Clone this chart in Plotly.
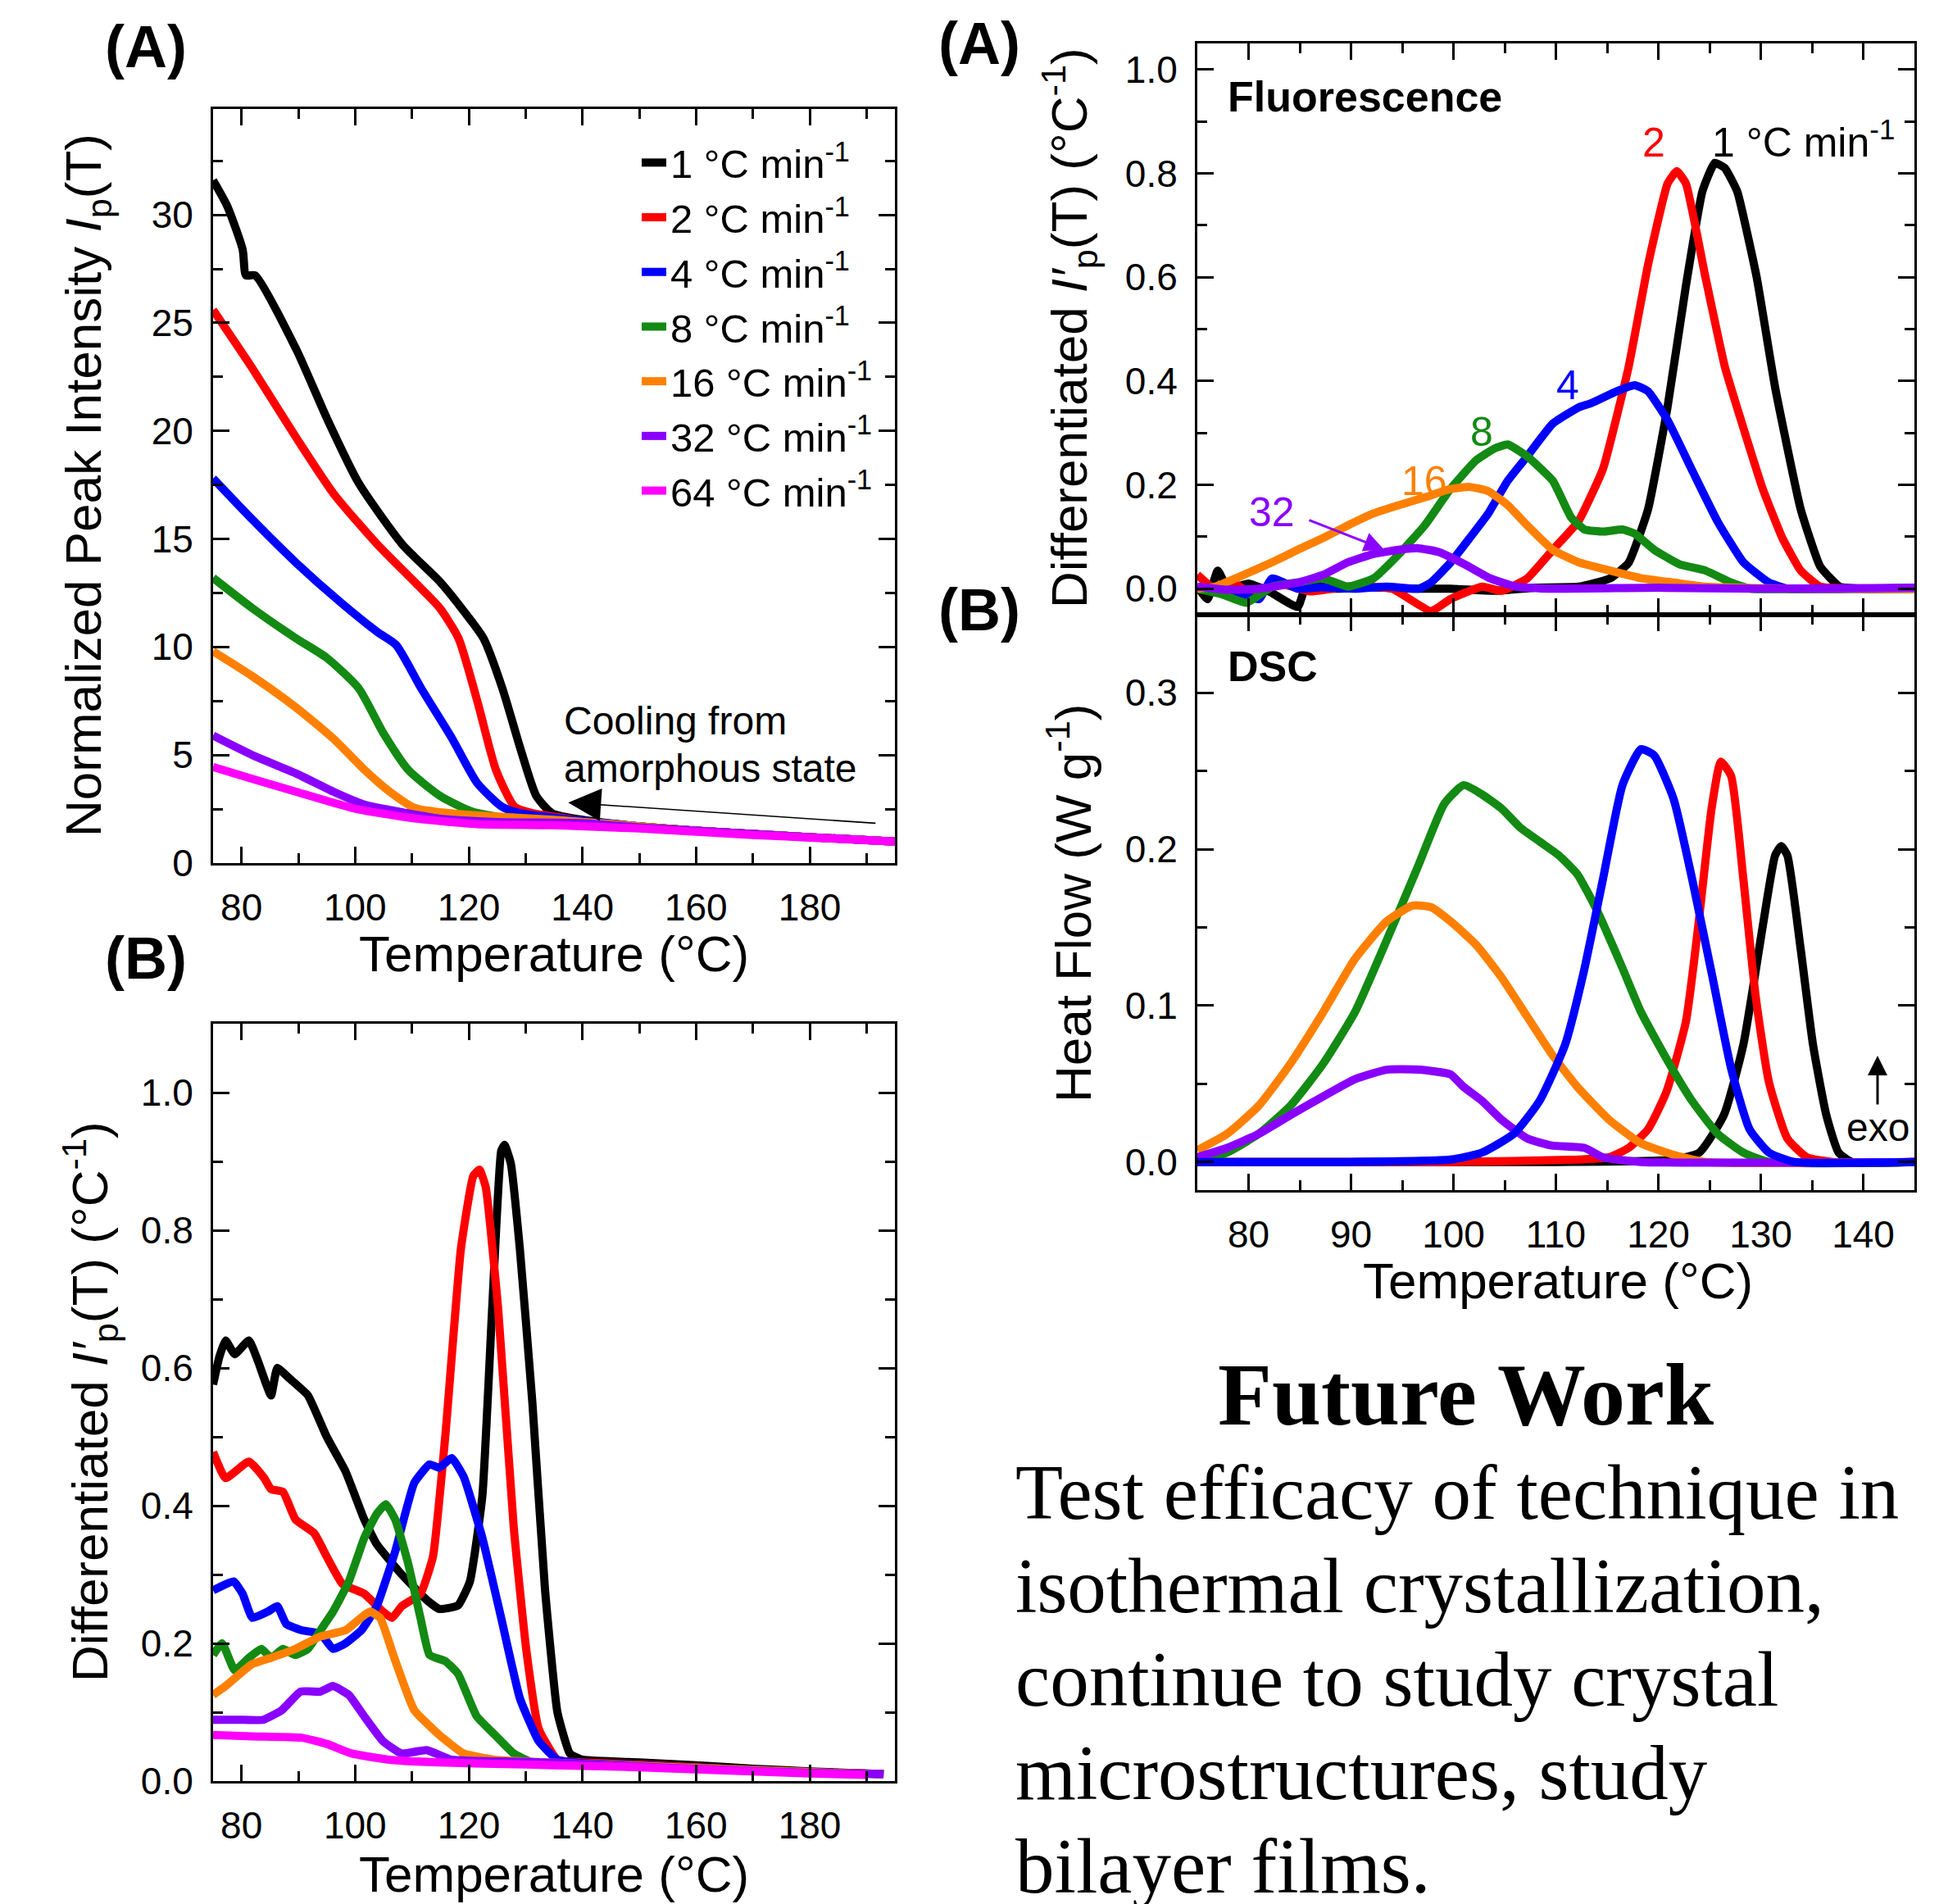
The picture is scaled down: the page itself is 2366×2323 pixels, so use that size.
import plotly.graph_objects as go

W, H = 2366, 2323
FONT = "Liberation Sans, Arial, Helvetica, sans-serif"
SERIF = "Liberation Serif, Times New Roman, serif"

rates = ["1", "2", "4", "8", "16", "32", "64"]
colors = ["#000000", "#ff0000", "#0000ff", "#138a13", "#ff8000", "#8a00ff", "#ff00ff"]

# ---------- Panel left (A): normalized peak intensity ----------
ipA_T = {
    "1": [75, 77.5, 80.2, 80.8, 82.4, 89.6, 95, 100.6, 108.3, 115, 119.3, 122.6, 125.9, 129.2, 131.9, 134.7, 140, 150, 160, 170, 180, 195],
    "2": [75, 81.9, 89.6, 96.2, 103.9, 110.5, 114.9, 118.2, 121.5, 124.8, 128.1, 131.4, 135, 140, 150, 160, 170, 180, 195],
    "4": [75, 81.9, 89.6, 97.3, 103.9, 107.2, 111.6, 117.1, 121.5, 125.9, 129.2, 135, 140, 150, 160, 170, 180, 195],
    "8": [75, 81.9, 89.6, 95, 100.6, 105, 109.4, 115, 120.4, 125.9, 132, 140, 150, 160, 170, 180, 195],
    "16": [75, 81.9, 89.6, 96.2, 101.7, 106.1, 110.5, 117.1, 125, 135, 140, 150, 160, 170, 180, 195],
    "32": [75, 81.9, 89.6, 96.2, 101.7, 109.4, 115, 125, 140, 150, 160, 170, 180, 195],
    "64": [75, 81.9, 89.6, 99.5, 109.4, 121.5, 135, 150, 160, 170, 180, 195],
}
ipA_I = {
    "1": [31.6, 30.4, 28.4, 27.2, 27.2, 23.8, 20.6, 17.6, 14.75, 13.0, 11.6, 10.4, 8.1, 5.2, 3.1, 2.3, 2.0, 1.7, 1.5, 1.35, 1.2, 1.0],
    "2": [25.6, 22.9, 19.7, 17.1, 14.75, 13.0, 11.8, 10.4, 7.5, 4.3, 2.6, 2.3, 2.15, 1.95, 1.7, 1.5, 1.35, 1.2, 1.0],
    "4": [17.8, 15.9, 13.9, 12.1, 10.7, 10.1, 8.1, 5.75, 3.7, 2.6, 2.3, 2.1, 1.95, 1.7, 1.5, 1.35, 1.2, 1.0],
    "8": [13.2, 11.8, 10.4, 9.5, 8.1, 6.0, 4.3, 3.1, 2.4, 2.1, 2.0, 1.9, 1.7, 1.5, 1.35, 1.2, 1.0],
    "16": [9.8, 8.65, 7.2, 5.75, 4.3, 3.3, 2.55, 2.3, 2.15, 2.0, 1.9, 1.7, 1.5, 1.35, 1.2, 1.0],
    "32": [5.9, 5.0, 4.15, 3.3, 2.7, 2.3, 2.05, 1.9, 1.85, 1.65, 1.5, 1.35, 1.2, 1.0],
    "64": [4.45, 3.9, 3.3, 2.55, 2.1, 1.8, 1.75, 1.6, 1.45, 1.3, 1.18, 1.0],
}

# ---------- Panel left (B): differentiated intensity ----------
dB_T = {
    "1": [75, 76.1, 77.2, 78.8, 81.3, 82.9, 85.2, 86.3, 88.4, 91.7, 95, 98.3, 101.6, 103.8, 108.2, 112.6, 114.8, 118.1, 120.2, 122.4, 124.1, 125.7, 126.3, 127.4, 129.0, 131.2, 133.4, 135.6, 137.8, 140, 150, 160, 170, 180, 193],
    "2": [75, 77.2, 81.3, 84, 85.2, 87.3, 89.5, 92.8, 95, 97.8, 101.6, 104.9, 106.5, 108.2, 111.5, 113.7, 115.9, 118.6, 120.8, 121.9, 123, 125.2, 127.9, 130.1, 132.3, 135.6, 140, 150, 160, 170, 180, 193],
    "4": [75, 78.6, 80.2, 81.9, 84.6, 86.3, 87.9, 90.6, 93.9, 96.1, 98.3, 101.1, 103.8, 107.1, 110.4, 113.1, 114.8, 117, 119.1, 122.4, 125.7, 129, 132.3, 135.6, 140, 150, 160, 170, 180, 193],
    "8": [75, 76.6, 78.8, 81.3, 83.5, 85.2, 87.3, 89.5, 91.7, 93.9, 96.1, 98.9, 101.6, 103.8, 105.4, 107.1, 109.3, 111.5, 113.1, 115.9, 118.1, 121.4, 124.6, 127.9, 131.2, 140, 150, 160, 170, 180, 193],
    "16": [75, 77.2, 81.9, 85.2, 89.5, 93.9, 98.3, 101.6, 102.7, 104.4, 107.1, 110.4, 114.8, 119.1, 124.6, 140, 150, 160, 170, 180, 193],
    "32": [75, 79.4, 83.8, 87.1, 90.4, 93.9, 96.1, 98.9, 101.6, 104.9, 108.2, 112.6, 117, 130, 140, 150, 160, 170, 180, 193],
    "64": [75, 81.9, 90.6, 95, 99.4, 106, 114.8, 130, 140, 150, 160, 170, 180, 190],
}
dB_V = {
    "1": [0.576, 0.616, 0.64, 0.62, 0.64, 0.61, 0.56, 0.60, 0.585, 0.56, 0.50, 0.45, 0.38, 0.344, 0.30, 0.263, 0.25, 0.255, 0.29, 0.415, 0.683, 0.915, 0.924, 0.897, 0.772, 0.549, 0.28, 0.10, 0.04, 0.031, 0.027, 0.023, 0.018, 0.014, 0.01],
    "2": [0.478, 0.44, 0.464, 0.44, 0.424, 0.42, 0.38, 0.36, 0.326, 0.286, 0.272, 0.246, 0.237, 0.254, 0.272, 0.326, 0.504, 0.772, 0.879, 0.888, 0.862, 0.683, 0.37, 0.192, 0.076, 0.031, 0.027, 0.024, 0.02, 0.016, 0.013, 0.01],
    "4": [0.277, 0.29, 0.272, 0.237, 0.246, 0.254, 0.228, 0.219, 0.214, 0.192, 0.20, 0.219, 0.254, 0.335, 0.433, 0.46, 0.455, 0.469, 0.442, 0.353, 0.237, 0.12, 0.058, 0.031, 0.026, 0.023, 0.019, 0.016, 0.013, 0.01],
    "8": [0.183, 0.20, 0.161, 0.179, 0.192, 0.179, 0.192, 0.183, 0.192, 0.219, 0.246, 0.29, 0.353, 0.388, 0.402, 0.379, 0.317, 0.237, 0.183, 0.174, 0.156, 0.094, 0.067, 0.04, 0.027, 0.024, 0.022, 0.018, 0.015, 0.012, 0.01],
    "16": [0.125, 0.138, 0.17, 0.179, 0.192, 0.21, 0.219, 0.241, 0.246, 0.237, 0.174, 0.103, 0.067, 0.04, 0.031, 0.025, 0.022, 0.019, 0.016, 0.013, 0.01],
    "32": [0.089, 0.089, 0.089, 0.103, 0.13, 0.13, 0.138, 0.125, 0.094, 0.058, 0.04, 0.045, 0.031, 0.028, 0.025, 0.021, 0.018, 0.015, 0.012, 0.01],
    "64": [0.067, 0.065, 0.063, 0.054, 0.04, 0.031, 0.027, 0.024, 0.022, 0.02, 0.017, 0.014, 0.011, 0.009],
}

# ---------- Panel right (A): fluorescence derivative ----------
fl_T = {
    "1": [75, 76, 77, 78, 80, 82, 84.8, 85.7, 88, 92, 96, 99.7, 104, 108, 112.2, 115.3, 117.1, 119, 120.9, 122.7, 124.3, 125.5, 126.5, 127.7, 129.6, 131.4, 133.9, 135.8, 137.7, 140, 145],
    "2": [75, 76.7, 78.5, 80.4, 83, 86, 90, 94, 97.8, 99.7, 102.8, 104.7, 107.2, 109.7, 112.2, 114.6, 117.1, 119, 120.9, 121.8, 122.7, 124.6, 126.5, 128.3, 130.2, 132.1, 133.9, 135.8, 140, 145],
    "4": [75, 77.3, 81, 82.3, 84.8, 87, 90.4, 93.5, 96.6, 97.8, 99.7, 101.6, 103.4, 105.3, 107.2, 109.7, 112.2, 113.4, 115.9, 117.7, 119, 120.9, 123.4, 125.8, 128.3, 130.8, 132.7, 140, 145],
    "8": [75, 77.3, 79.8, 82.3, 84.8, 87.3, 89.7, 92.2, 94.7, 97.2, 99.7, 102.2, 104, 105.3, 107.2, 109.7, 111.5, 112.8, 114.6, 116.5, 117.7, 119.6, 122.1, 124.6, 127.1, 129, 135, 145],
    "16": [75, 76.7, 79.2, 82.3, 84.8, 87.3, 89.7, 92.2, 94.7, 97.2, 99.7, 101.6, 103.4, 105.3, 107.2, 109.7, 112.2, 115.3, 118.4, 121.5, 124.6, 135, 145],
    "32": [75, 77.9, 81, 84.8, 87.3, 89.7, 92.2, 94.7, 96.6, 98.5, 101.1, 103.6, 106.1, 109.2, 120, 130, 145],
}
fl_V = {
    "1": [0.004, -0.02, 0.035, 0.0, 0.01, -0.005, -0.035, 0.01, 0.0, 0.003, 0.0, 0.0, -0.004, 0.002, 0.004, 0.02, 0.05, 0.153, 0.35, 0.584, 0.765, 0.82, 0.81, 0.765, 0.6, 0.388, 0.153, 0.043, 0.004, 0.0, 0.002],
    "2": [0.027, 0.0, 0.012, -0.012, 0.01, -0.005, 0.005, 0.0, -0.043, -0.02, 0.004, -0.004, 0.02, 0.075, 0.13, 0.231, 0.427, 0.624, 0.78, 0.804, 0.78, 0.6, 0.427, 0.31, 0.192, 0.098, 0.035, 0.004, 0.0, 0.0],
    "4": [0.0, 0.004, -0.02, 0.02, 0.0, 0.003, 0.0, 0.004, 0.0, 0.012, 0.05, 0.098, 0.145, 0.208, 0.255, 0.318, 0.349, 0.357, 0.38, 0.392, 0.38, 0.325, 0.224, 0.129, 0.051, 0.012, 0.0, 0.0, 0.0],
    "8": [0.0, -0.01, -0.027, 0.004, 0.012, 0.02, 0.004, 0.02, 0.067, 0.122, 0.192, 0.247, 0.27, 0.278, 0.255, 0.208, 0.137, 0.114, 0.11, 0.114, 0.106, 0.075, 0.047, 0.035, 0.012, 0.0, 0.0, 0.0],
    "16": [0.0, 0.004, 0.024, 0.051, 0.075, 0.098, 0.122, 0.145, 0.161, 0.176, 0.192, 0.196, 0.188, 0.161, 0.122, 0.075, 0.051, 0.035, 0.02, 0.012, 0.004, 0.0, 0.0],
    "32": [0.004, -0.002, 0.0, 0.012, 0.027, 0.051, 0.067, 0.075, 0.078, 0.071, 0.047, 0.02, 0.004, 0.0, 0.002, 0.0, 0.002],
}

# ---------- Panel right (B): DSC heat flow ----------
dsc_T = {
    "1": [75, 110, 121.5, 124, 126.4, 128.3, 130.2, 131.4, 132, 132.6, 133.9, 135.1, 136.4, 137.6, 138.9, 145],
    "2": [75, 100, 112.1, 115.2, 117.1, 119, 120.8, 122.7, 123.9, 125.2, 126.1, 127.1, 128.3, 129.5, 130.8, 132.6, 134.5, 137, 145],
    "8": [75, 77.9, 81, 84.1, 87.3, 90.4, 93.5, 96.6, 99.1, 101, 102.8, 104.7, 106.5, 108.4, 110.3, 112.1, 114, 116.5, 118.3, 120.8, 123.3, 125.8, 128.3, 130.8, 145],
    "16": [75, 77.9, 81, 84.1, 87.3, 90.4, 93.5, 96, 97.8, 99.7, 102.2, 104.7, 107.2, 109.6, 112.1, 115.2, 118.3, 121.5, 124.6, 145],
    "32": [75, 77.9, 81, 84.1, 87.3, 90.4, 93.5, 96.6, 99.7, 101, 102.8, 104.7, 107.2, 109.6, 112.8, 114.6, 118.3, 145],
    "4": [75, 90, 99.7, 102.8, 105.9, 108.4, 110.9, 112.7, 114.6, 116.5, 118.3, 119.6, 121.5, 123.3, 125.2, 127.1, 128.9, 130.8, 133.3, 145],
}
dsc_V = {
    "1": [0, 0, 0.0015, 0.006, 0.030, 0.075, 0.151, 0.196, 0.202, 0.196, 0.136, 0.075, 0.030, 0.006, 0.0, 0.0],
    "2": [0, 0, 0.0015, 0.003, 0.009, 0.021, 0.045, 0.09, 0.151, 0.226, 0.256, 0.247, 0.181, 0.106, 0.051, 0.015, 0.003, 0, 0],
    "8": [0.0, 0.006, 0.018, 0.036, 0.063, 0.096, 0.142, 0.19, 0.229, 0.241, 0.235, 0.226, 0.214, 0.205, 0.196, 0.184, 0.161, 0.124, 0.096, 0.066, 0.039, 0.018, 0.006, 0, 0],
    "16": [0.0075, 0.018, 0.036, 0.063, 0.096, 0.13, 0.154, 0.164, 0.163, 0.154, 0.139, 0.118, 0.093, 0.069, 0.048, 0.027, 0.012, 0.0045, 0, 0],
    "32": [0.003, 0.009, 0.018, 0.03, 0.042, 0.053, 0.059, 0.059, 0.056, 0.048, 0.039, 0.027, 0.015, 0.0105, 0.009, 0.003, 0, 0],
    "4": [0, 0, 0.0015, 0.006, 0.018, 0.039, 0.075, 0.121, 0.181, 0.241, 0.264, 0.26, 0.232, 0.181, 0.121, 0.06, 0.021, 0.006, 0, 0],
}

color_of = dict(zip(rates, colors))
LW = 10

fig = go.Figure()

for r in rates:
    fig.add_trace(go.Scatter(x=ipA_T[r], y=ipA_I[r], mode="lines", name=f"{r} °C min<sup>-1</sup>",
                             legendgroup=r, line=dict(color=color_of[r], width=LW, shape="spline", smoothing=0.6),
                             xaxis="x", yaxis="y"))
for r in rates:
    fig.add_trace(go.Scatter(x=dB_T[r], y=dB_V[r], mode="lines", showlegend=False,
                             line=dict(color=color_of[r], width=LW, shape="spline", smoothing=0.4),
                             xaxis="x2", yaxis="y2"))
for r in ["1", "2", "4", "8", "16", "32"]:
    fig.add_trace(go.Scatter(x=fl_T[r], y=fl_V[r], mode="lines", showlegend=False,
                             line=dict(color=color_of[r], width=LW, shape="spline", smoothing=0.4),
                             xaxis="x3", yaxis="y3"))
for r in ["1", "2", "8", "16", "32", "4"]:
    fig.add_trace(go.Scatter(x=dsc_T[r], y=dsc_V[r], mode="lines", showlegend=False,
                             line=dict(color=color_of[r], width=LW, shape="spline", smoothing=0.5),
                             xaxis="x4", yaxis="y4"))


def ax(domain, rng, dtick, mdtick, anchor, labels=True, fmt=None):
    d = dict(domain=domain, range=rng, dtick=dtick, tick0=0, anchor=anchor, automargin=False,
             showline=True, linecolor="black", linewidth=3, mirror="allticks",
             ticks="inside", ticklen=20, tickwidth=3, tickcolor="black",
             minor=dict(dtick=mdtick, ticks="inside", ticklen=12, tickwidth=3, tickcolor="black"),
             showgrid=False, zeroline=False, showticklabels=labels,
             tickfont=dict(family=FONT, size=46, color="black"), ticklabelstandoff=12)
    if fmt:
        d["tickformat"] = fmt
    return d


xL = [260 / W, 1092 / W]
yTL = [1 - 1053 / H, 1 - 133 / H]
yBL = [1 - 2173 / H, 1 - 1249 / H]
xR = [1461 / W, 2336 / W]
yRT = [1 - 750 / H, 1 - 53 / H]
yRB = [1 - 1452 / H, 1 - 750 / H]

fig.update_layout(
    width=W, height=H, margin=dict(l=0, r=0, t=0, b=0, autoexpand=False),
    paper_bgcolor="white", plot_bgcolor="white",
    font=dict(family=FONT, color="black"),
    xaxis=ax(xL, [75, 195], 20, 10, "y"),
    yaxis=ax(yTL, [0, 34.9], 5, 2.5, "x"),
    xaxis2=ax(xL, [75, 195], 20, 10, "y2"),
    yaxis2=ax(yBL, [0, 1.1], 0.2, 0.1, "x2", fmt=".1f"),
    xaxis3=ax(xR, [75, 145], 10, 5, "y3", labels=False),
    yaxis3=ax(yRT, [-0.05, 1.05], 0.2, 0.1, "x3", fmt=".1f"),
    xaxis4=ax(xR, [75, 145], 10, 5, "y4"),
    yaxis4=ax(yRB, [-0.018, 0.35], 0.1, 0.05, "x4", fmt=".1f"),
    legend=dict(x=778 / W, y=1 - 160 / H, xanchor="left", yanchor="top",
                font=dict(family=FONT, size=49, color="black"),
                bgcolor="rgba(0,0,0,0)", tracegroupgap=0, itemwidth=30),
)

ann = []


def paper_text(x, y, text, size, bold=False, family=FONT, angle=0, xanchor="center", color="black"):
    t = f"<b>{text}</b>" if bold else text
    ann.append(dict(x=x / W, y=1 - y / H, xref="paper", yref="paper", text=t, showarrow=False,
                    font=dict(family=family, size=size, color=color), textangle=angle,
                    xanchor=xanchor, yanchor="middle"))


# panel labels
paper_text(178, 57, "(A)", 72, bold=True)
paper_text(178, 1169, "(B)", 72, bold=True)
paper_text(1195, 53, "(A)", 72, bold=True)
paper_text(1195, 744, "(B)", 72, bold=True)

# axis titles
paper_text(676, 1163, "Temperature (°C)", 62)
paper_text(676, 2286, "Temperature (°C)", 62)
paper_text(1901, 1562, "Temperature (°C)", 62)
paper_text(106, 592, "Normalized Peak Intensity <i>I</i><sub>p</sub>(T)", 62, angle=-90)
paper_text(109, 1710, "Differentiated <i>I′</i><sub>p</sub>(T) (°C<sup>-1</sup>)", 62, angle=-90)
paper_text(1305, 400, "Differentiated <i>I′</i><sub>p</sub>(T) (°C<sup>-1</sup>)", 62, angle=-90)
paper_text(1305, 1102, "Heat Flow (W g<sup>-1</sup>)", 62, angle=-90)

# Future work text
paper_text(1788, 1701, "Future Work", 108, bold=True, family=SERIF)
body = ["Test efficacy of technique in", "isothermal crystallization,", "continue to study crystal",
        "microstructures, study", "bilayer films."]
for i, line in enumerate(body):
    paper_text(1237, 1821 + i * 114, line, 95, family=SERIF, xanchor="left")


def data_text(xr, yr, x, y, text, size, color="black", xanchor="center", bold=False):
    t = f"<b>{text}</b>" if bold else text
    ann.append(dict(x=x, y=y, xref=xr, yref=yr, text=t, showarrow=False, xanchor=xanchor, yanchor="middle",
                    font=dict(family=FONT, size=size, color=color)))


# Left A: cooling arrow
data_text("x", "y", 136.4, 6.6, "Cooling from", 48, xanchor="left")
data_text("x", "y", 136.4, 4.37, "amorphous state", 48, xanchor="left")
ann.append(dict(x=137.5, y=2.8, ax=191.8, ay=1.84, xref="x", yref="y", axref="x", ayref="y", text="",
                showarrow=True, arrowhead=2, arrowsize=5, arrowwidth=1.6, arrowcolor="black"))

# Right A labels
data_text("x3", "y3", 77.8, 0.948, "Fluorescence", 52, xanchor="left", bold=True)
data_text("x3", "y3", 125.1, 0.866, "1 °C min<sup>-1</sup>", 50, xanchor="left")
data_text("x3", "y3", 119.6, 0.859, "2", 50, color=color_of["2"])
data_text("x3", "y3", 111.2, 0.392, "4", 50, color=color_of["4"])
data_text("x3", "y3", 102.8, 0.302, "8", 50, color=color_of["8"])
data_text("x3", "y3", 97.2, 0.208, "16", 50, color=color_of["16"])
data_text("x3", "y3", 82.3, 0.147, "32", 50, color=color_of["32"])
ann.append(dict(x=93.2, y=0.076, ax=85.8, ay=0.133, xref="x3", yref="y3", axref="x3", ayref="y3", text="",
                showarrow=True, arrowhead=2, arrowsize=1.6, arrowwidth=3, arrowcolor=color_of["32"]))

# Right B labels
data_text("x4", "y4", 77.8, 0.317, "DSC", 52, xanchor="left", bold=True)
data_text("x4", "y4", 141.4, 0.022, "exo", 48)
ann.append(dict(x=141.4, y=0.068, ax=141.4, ay=0.036, xref="x4", yref="y4", axref="x4", ayref="y4", text="",
                showarrow=True, arrowhead=2, arrowsize=1.6, arrowwidth=3, arrowcolor="black"))

fig.update_layout(annotations=ann)
fig.write_html("out.html", config={"displayModeBar": False},
               post_script="document.body.style.margin='0';")
